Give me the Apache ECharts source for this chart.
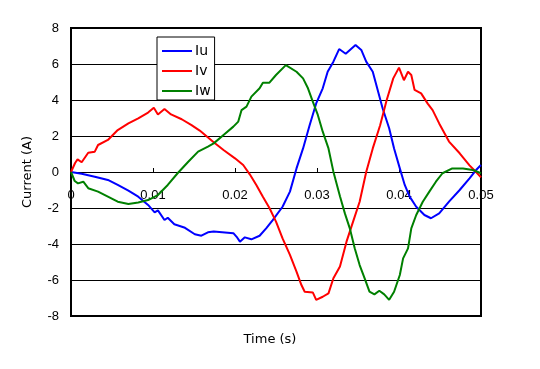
<!DOCTYPE html>
<html>
<head>
<meta charset="utf-8">
<script src="https://cdn.jsdelivr.net/npm/echarts@6/dist/echarts.min.js"></script>
<style>
html,body{margin:0;padding:0;background:#fff;}
#chart{width:540px;height:369px;}
</style>
</head>
<body>
<div id="chart"></div>
<script>
// Iu
var uTime = [0, 0.0013, 0.0029, 0.0045, 0.0057, 0.007, 0.0082, 0.0094, 0.0102, 0.0106, 0.0114, 0.0118, 0.0126, 0.0139, 0.0151, 0.0159, 0.0167, 0.0174, 0.0198, 0.0202, 0.0206, 0.0212, 0.022, 0.023, 0.0238, 0.0246, 0.0258, 0.0267, 0.0275, 0.0283, 0.0291, 0.0299, 0.0307, 0.0313, 0.032, 0.0327, 0.0335, 0.0347, 0.0354, 0.036, 0.0368, 0.0374, 0.038, 0.0388, 0.0394, 0.0401, 0.0407, 0.0413, 0.0421, 0.0431, 0.0439, 0.0449, 0.0461, 0.0474, 0.0486, 0.0494, 0.05];
var uValues = [0, -0.1, -0.26, -0.44, -0.72, -1.04, -1.37, -1.83, -2.24, -2.13, -2.67, -2.54, -2.9, -3.1, -3.46, -3.54, -3.35, -3.31, -3.4, -3.6, -3.87, -3.63, -3.74, -3.54, -3.13, -2.67, -1.93, -1.09, 0.2, 1.31, 2.6, 3.81, 4.65, 5.57, 6.13, 6.83, 6.57, 7.06, 6.78, 6.13, 5.57, 4.56, 3.54, 2.43, 1.31, 0.2, -0.72, -1.37, -1.93, -2.39, -2.57, -2.3, -1.65, -1.0, -0.35, 0.11, 0.39];
// Iv
var vTime = [0, 0.0005, 0.0008, 0.0013, 0.0021, 0.0029, 0.0033, 0.0045, 0.0057, 0.007, 0.0082, 0.0094, 0.0101, 0.0106, 0.0114, 0.0122, 0.0135, 0.0147, 0.0157, 0.0174, 0.0186, 0.02, 0.021, 0.0218, 0.0226, 0.0234, 0.0242, 0.025, 0.0258, 0.0267, 0.0275, 0.0281, 0.0285, 0.0295, 0.0299, 0.0307, 0.0314, 0.032, 0.0328, 0.0336, 0.0344, 0.0352, 0.036, 0.0368, 0.0377, 0.0385, 0.0393, 0.04, 0.0406, 0.0411, 0.0415, 0.0419, 0.0427, 0.0435, 0.0441, 0.0449, 0.0461, 0.0474, 0.0486, 0.0494, 0.05];
var vValues = [0, 0.5, 0.7, 0.54, 1.07, 1.13, 1.5, 1.78, 2.33, 2.7, 2.98, 3.3, 3.57, 3.2, 3.5, 3.2, 2.93, 2.6, 2.3, 1.65, 1.22, 0.76, 0.39, -0.13, -0.72, -1.37, -2.0, -2.76, -3.69, -4.6, -5.54, -6.28, -6.65, -6.7, -7.1, -6.93, -6.74, -5.9, -5.25, -3.87, -2.76, -1.65, 0, 1.31, 2.6, 4.0, 5.2, 5.8, 5.1, 5.57, 5.39, 4.56, 4.37, 3.8, 3.44, 2.7, 1.69, 1.04, 0.37, 0, -0.3];
// Iw
var wTime = [0, 0.00045, 0.00085, 0.0015, 0.0021, 0.0033, 0.0045, 0.0057, 0.007, 0.0082, 0.0094, 0.0106, 0.0118, 0.013, 0.0143, 0.0155, 0.0167, 0.0174, 0.0186, 0.0198, 0.0204, 0.0208, 0.0214, 0.022, 0.023, 0.0234, 0.0242, 0.025, 0.0262, 0.0275, 0.0283, 0.0289, 0.0295, 0.0301, 0.0307, 0.0314, 0.032, 0.0328, 0.0334, 0.034, 0.0346, 0.0352, 0.0358, 0.0364, 0.037, 0.0376, 0.0382, 0.0388, 0.0394, 0.0401, 0.0405, 0.0411, 0.0415, 0.0421, 0.0429, 0.0437, 0.0445, 0.0453, 0.0465, 0.0478, 0.049, 0.05];
var wValues = [0, -0.5, -0.63, -0.54, -0.9, -1.09, -1.37, -1.65, -1.78, -1.69, -1.56, -1.28, -0.72, -0.07, 0.57, 1.13, 1.41, 1.59, 2.06, 2.52, 2.8, 3.44, 3.63, 4.19, 4.65, 4.96, 4.96, 5.39, 5.94, 5.57, 5.2, 4.65, 3.9, 3.17, 2.24, 1.31, 0.02, -1.35, -2.3, -3.13, -4.24, -5.17, -5.9, -6.65, -6.8, -6.6, -6.8, -7.1, -6.65, -5.72, -4.8, -4.24, -3.13, -2.39, -1.65, -1.09, -0.54, -0.07, 0.2, 0.2, 0.11, -0.07];

var seriesNames = ['Iu', 'Iv', 'Iw'];
var xTicks = [0, 0.01, 0.02, 0.03, 0.04, 0.05];
var yTicks = [-8, -6, -4, -2, 0, 2, 4, 6, 8];

function pairs(t, v) { return t.map(function (x, i) { return [x, v[i]]; }); }

var NUMFONT = 'Liberation Sans';
var TXTFONT = 'DejaVu Sans';
var chart = echarts.init(document.getElementById('chart'), null, {renderer: 'canvas'});
chart.setOption({
  animation: false,
  backgroundColor: '#fff',
  title: {
    text: 'Time (s)',
    left: 'center',
    top: 333,
    padding: 0,
    textStyle: {fontFamily: TXTFONT, fontSize: 13, fontWeight: 'normal', color: '#000'}
  },
  legend: {
    orient: 'vertical',
    left: 157,
    top: 37,
    padding: [7, 4, 2, 5],
    icon: 'rect',
    itemWidth: 30,
    itemHeight: 2,
    itemGap: 6,
    backgroundColor: '#fff',
    borderColor: '#000',
    borderWidth: 1,
    textStyle: {fontFamily: TXTFONT, fontSize: 14, lineHeight: 14, color: '#000', padding: [0, 0, 0, -2]},
    data: seriesNames
  },
  grid: {
    left: 71, right: 59, top: 28, bottom: 53,
    show: true, borderColor: '#000', borderWidth: 2, backgroundColor: 'transparent'
  },
  xAxis: {
    type: 'value',
    position: 'bottom',
    offset: -144,
    min: xTicks[0], max: xTicks[xTicks.length - 1], interval: 0.01,
    axisLine: {show: true, onZero: false, lineStyle: {color: '#000', width: 1}},
    axisTick: {show: true, inside: true, length: 4, lineStyle: {color: '#000'}},
    splitLine: {show: false},
    axisLabel: {
      margin: 17, fontFamily: NUMFONT, fontSize: 13, color: '#000',
      formatter: function (v) { return v === 0 ? '0' : String(+v.toFixed(2)); }
    }
  },
  yAxis: {
    type: 'value',
    min: yTicks[0], max: yTicks[yTicks.length - 1], interval: 2,
    name: 'Current (A)',
    nameLocation: 'middle',
    nameGap: 37,
    nameTextStyle: {fontFamily: TXTFONT, fontSize: 13, color: '#000'},
    axisLine: {show: true, lineStyle: {color: '#000', width: 2}},
    axisTick: {show: false},
    splitLine: {show: true, lineStyle: {color: '#000', width: 1}},
    axisLabel: {margin: 12, fontFamily: NUMFONT, fontSize: 13, color: '#000'}
  },
  series: [
    {name: seriesNames[0], type: 'line', symbol: 'none', data: pairs(uTime, uValues), lineStyle: {color: '#0000ff', width: 2}, itemStyle: {color: '#0000ff'}},
    {name: seriesNames[1], type: 'line', symbol: 'none', data: pairs(vTime, vValues), lineStyle: {color: '#ff0000', width: 2}, itemStyle: {color: '#ff0000'}},
    {name: seriesNames[2], type: 'line', symbol: 'none', data: pairs(wTime, wValues), lineStyle: {color: '#008000', width: 2}, itemStyle: {color: '#008000'}}
  ]
});
</script>
</body>
</html>
